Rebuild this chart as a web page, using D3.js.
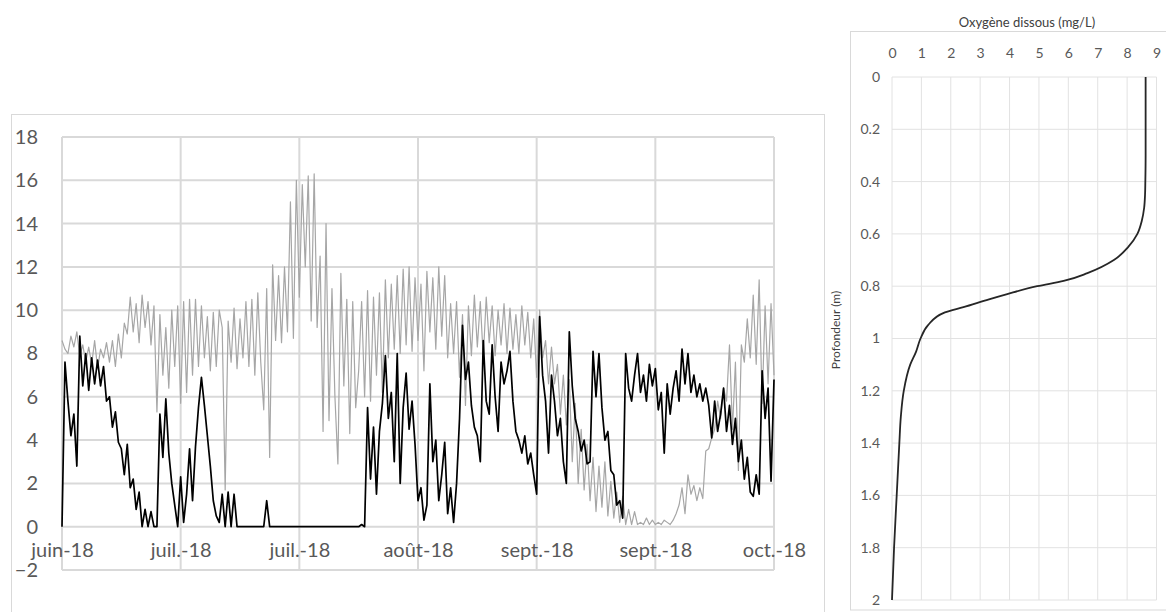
<!DOCTYPE html>
<html><head><meta charset="utf-8">
<script src="https://cdn.jsdelivr.net/npm/d3@7"></script>
<style>
body{margin:0;background:#fff;}
svg{display:block;}
</style></head><body>
<svg id="c" width="1166" height="612"></svg>
<script>
// ---------- Left chart data (half-day samples starting 2018-06-15) ----------
const seriesStart = Date.UTC(2018, 5, 15);
const seriesEnd = Date.UTC(2018, 9, 13);
const tickDates = ["2018-06-15","2018-07-05","2018-07-25","2018-08-14","2018-09-03","2018-09-23","2018-10-13"];
const tickLabels = ["juin-18","juil.-18","juil.-18","août-18","sept.-18","sept.-18","oct.-18"];
const yTicks = [-2,0,2,4,6,8,10,12,14,16,18];

const greyValues = [
 8.6,8.2,8.0,8.8,8.3,9.0,7.9,8.4,7.6,8.3,7.5,8.6,7.3,8.2,7.8,8.5,7.6,8.6,7.4,8.9,
 7.8,9.4,8.9,10.6,9.0,10.3,8.5,10.7,9.2,10.4,8.4,10.2,5.3,9.8,7.0,9.2,6.4,10.0,7.4,10.2,
 5.7,10.4,6.2,10.5,7.0,10.5,7.4,10.2,7.8,9.7,7.2,9.9,7.4,10.0,9.2,1.7,9.5,7.6,10.1,7.3,
 9.6,7.8,10.4,7.4,10.5,7.0,10.8,7.6,5.4,11.0,3.2,12.1,8.6,11.6,8.5,12.0,9.0,15.0,8.7,16.0,
 10.6,15.8,12.0,16.2,9.5,16.3,9.2,12.5,4.4,14.0,4.9,11.0,6.0,2.9,11.7,6.5,10.5,4.3,10.4,5.5,
 7.2,10.4,6.0,10.9,5.8,10.6,7.0,10.8,6.2,11.4,7.8,11.2,8.2,11.6,8.0,11.9,8.4,12.0,8.1,11.5,
 8.6,11.2,7.2,11.8,9.0,11.5,8.2,12.0,8.8,11.6,7.8,10.3,8.0,10.4,6.9,9.8,5.6,10.2,7.9,10.7,
 8.3,10.4,7.8,10.6,8.5,10.2,7.9,10.0,8.4,10.3,8.0,10.1,8.2,9.8,8.0,10.2,8.4,9.9,7.8,9.6,
 6.9,10.0,7.8,8.6,6.6,8.3,6.6,7.5,5.2,7.0,4.7,6.8,3.0,5.7,2.0,4.5,1.7,3.8,1.2,3.2,
 0.7,2.8,0.9,3.0,0.5,2.1,0.4,1.6,0.2,1.4,0.1,0.8,0.1,0.7,0.1,0.2,0.1,0.4,0.1,0.3,
 0.1,0.2,0.1,0.3,0.2,0.1,0.3,0.6,1.0,1.8,0.6,2.4,1.5,1.9,1.2,1.8,1.3,3.5,3.6,4.1,
 4.5,5.8,5.0,6.4,5.8,8.4,4.5,7.6,2.6,8.4,7.6,9.6,7.8,10.7,7.5,11.4,5.7,10.2,6.6,10.3,
 7.0
];
const blackValues = [
 0,7.6,5.8,4.2,5.2,2.8,8.8,6.5,8.0,6.3,7.8,6.6,7.7,6.5,7.4,5.8,6.0,4.6,5.3,3.9,
 3.6,2.4,3.8,1.8,2.2,0.8,1.6,0,0.8,0,0.7,0,0,5.2,3.2,5.9,3.4,2.0,1.0,0,
 2.3,0.2,1.5,3.6,1.2,3.7,5.5,6.9,5.6,4.2,2.8,1.2,0.5,0.2,1.5,0,1.6,0,1.5,0,
 0,0,0,0,0,0,0,0,0,1.2,0,0,0,0,0,0,0,0,0,0,
 0,0,0,0,0,0,0,0,0,0,0,0,0,0,0,0,0,0,0,0,
 0,0.1,0,5.5,2.2,4.6,1.5,4.4,5.7,7.9,5.0,6.2,3.0,8.0,2.0,5.5,7.1,4.5,5.8,3.8,
 1.2,1.8,0.3,1.0,6.6,3.0,4.0,1.2,2.4,3.9,0.6,1.8,0.2,2.0,5.0,9.3,6.8,7.6,5.6,4.6,
 4.2,3.0,8.6,5.8,5.2,8.4,6.0,4.4,7.6,6.6,7.2,8.1,5.8,4.4,4.0,3.4,4.2,2.9,3.4,2.4,
 1.5,9.7,7.0,5.8,3.4,7.0,5.8,4.2,5.0,3.0,2.0,9.0,6.5,5.0,4.4,3.5,4.0,2.9,3.0,8.1,
 6.0,8.0,5.5,4.0,4.4,2.6,2.4,1.0,1.2,0.4,8.0,6.4,5.8,7.0,8.0,6.2,7.0,5.8,7.5,6.5,
 7.3,5.4,6.2,3.4,6.6,5.2,6.4,7.2,5.8,8.2,6.6,8.0,6.2,7.0,6.0,6.6,5.8,6.4,5.6,4.1,
 5.8,4.4,5.2,6.4,4.4,5.6,3.8,5.0,3.0,4.0,2.2,3.2,1.6,1.4,2.4,1.5,7.2,5.0,6.4,2.1,
 6.8
];

// ---------- Right chart data (dissolved-oxygen profile) ----------
const profileDepth = [0,0.1,0.2,0.3,0.4,0.45,0.5,0.55,0.6,0.65,0.7,0.75,0.78,0.8,0.83,0.85,0.88,0.9,0.95,1.0,1.05,1.1,1.2,1.3,1.4,1.6,1.8,2.0];
const profileDO    = [8.63,8.63,8.63,8.63,8.62,8.61,8.58,8.5,8.35,8.04,7.55,6.65,5.84,4.94,3.92,3.3,2.43,1.8,1.22,0.97,0.82,0.62,0.4,0.3,0.25,0.16,0.07,0.0];
const profileXTicks = [0,1,2,3,4,5,6,7,8,9];
const profileYTicks = [0,0.2,0.4,0.6,0.8,1,1.2,1.4,1.6,1.8,2];
const profileTitle = "Oxygène dissous (mg/L)";
const profileYTitle = "Profondeur (m)";

const svg = d3.select("#c");
const FONT = "Lato, 'Open Sans', sans-serif";

// ================= LEFT CHART =================
svg.append("rect").attr("x",11.5).attr("y",114.5).attr("width",813).attr("height",520)
  .attr("fill","none").attr("stroke","#d9d9d9").attr("stroke-width",1);

const x = d3.scaleUtc().domain([seriesStart, seriesEnd]).range([62, 774]);
const y = d3.scaleLinear().domain([-2, 18]).range([570, 137]);
const tDates = tickDates.map(s => new Date(s + "T00:00:00Z"));
const stepMs = 12*3600*1000;
const times = greyValues.map((_, i) => new Date(seriesStart + i*stepMs));

const grid = svg.append("g");
grid.selectAll("line.h").data(yTicks).join("line")
  .attr("x1", 62).attr("x2", 774).attr("y1", d => y(d)).attr("y2", d => y(d))
  .attr("stroke", "#d9d9d9").attr("stroke-width", 2);
grid.selectAll("line.v").data(tDates).join("line")
  .attr("x1", d => x(d)).attr("x2", d => x(d)).attr("y1", y(18)).attr("y2", y(-2))
  .attr("stroke", "#d9d9d9").attr("stroke-width", 2);

const yAxis = svg.append("g").attr("transform","translate(62,0)")
  .call(d3.axisLeft(y).tickValues(yTicks).tickSize(0).tickPadding(24).tickFormat(d3.format("d")));
yAxis.select(".domain").remove();
yAxis.selectAll("text").attr("font-family",FONT).attr("font-size",20).attr("fill","#595959");

const line = d3.line().x((d,i) => x(times[i])).y(d => y(d));
svg.append("path").datum(greyValues).attr("d", line)
  .attr("fill","none").attr("stroke","#a6a6a6").attr("stroke-width",1.2).attr("stroke-linejoin","round");
svg.append("path").datum(blackValues).attr("d", line)
  .attr("fill","none").attr("stroke","#000").attr("stroke-width",1.7).attr("stroke-linejoin","round");

const xAxis = svg.append("g").attr("transform",`translate(0,${y(0)})`)
  .call(d3.axisBottom(x).tickValues(tDates).tickSize(0).tickPadding(16).tickFormat((d,i) => tickLabels[i]));
xAxis.select(".domain").remove();
xAxis.selectAll("text").attr("font-family",FONT).attr("font-size",20).attr("fill","#595959");

// ================= RIGHT CHART =================
svg.append("rect").attr("x",850.5).attr("y",31.5).attr("width",400).attr("height",578.5)
  .attr("fill","none").attr("stroke","#d9d9d9").attr("stroke-width",1);

const px = d3.scaleLinear().domain([0, 9]).range([892, 1156.5]);
const py = d3.scaleLinear().domain([0, 2]).range([77, 600]);

const g2 = svg.append("g");
g2.selectAll("line.h").data(profileYTicks).join("line")
  .attr("x1", px(0)).attr("x2", px(9)).attr("y1", d => py(d)).attr("y2", d => py(d))
  .attr("stroke","#e2e2e2").attr("stroke-width",1);
g2.selectAll("line.v").data(profileXTicks).join("line")
  .attr("x1", d => px(d)).attr("x2", d => px(d)).attr("y1", py(0)).attr("y2", py(2))
  .attr("stroke","#e2e2e2").attr("stroke-width",1);

const topAxis = svg.append("g").attr("transform",`translate(0,${py(0)})`)
  .call(d3.axisTop(px).tickValues(profileXTicks).tickSize(0).tickPadding(19).tickFormat(d3.format("d")));
topAxis.select(".domain").remove();
topAxis.selectAll("text").attr("font-family",FONT).attr("font-size",14).attr("fill","#595959");

const leftAxis = svg.append("g").attr("transform",`translate(${px(0)},0)`)
  .call(d3.axisLeft(py).tickValues(profileYTicks).tickSize(0).tickPadding(12).tickFormat(d => d3.format("")(+d.toFixed(1))));
leftAxis.select(".domain").remove();
leftAxis.selectAll("text").attr("font-family",FONT).attr("font-size",14).attr("fill","#595959");

svg.append("text").attr("x",1027).attr("y",27).attr("text-anchor","middle")
  .attr("font-family",FONT).attr("font-size",13).attr("fill","#404040").text(profileTitle);
svg.append("text").attr("transform","translate(840,330) rotate(-90)").attr("text-anchor","middle")
  .attr("font-family",FONT).attr("font-size",12).attr("fill","#404040").text(profileYTitle);

const pLine = d3.line().x(d => px(d[1])).y(d => py(d[0])).curve(d3.curveMonotoneY);
svg.append("path").datum(profileDepth.map((d,i) => [d, profileDO[i]])).attr("d", pLine)
  .attr("fill","none").attr("stroke","#262626").attr("stroke-width",1.8);
</script>
</body></html>
